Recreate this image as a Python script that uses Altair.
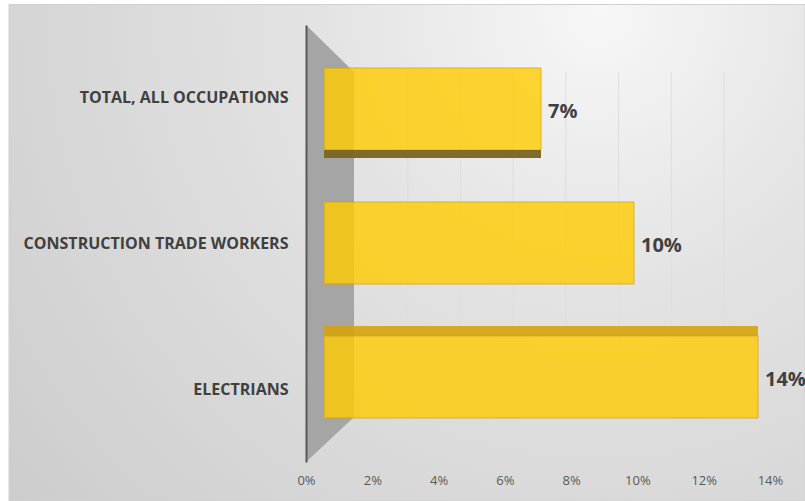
import altair as alt
import pandas as pd

# ---- data ----
categories = ["TOTAL, ALL OCCUPATIONS", "CONSTRUCTION TRADE WORKERS", "ELECTRIANS"]
values = [0.07, 0.10, 0.14]
tick_values = [0, 0.02, 0.04, 0.06, 0.08, 0.10, 0.12, 0.14]
grid_values = [0.02, 0.04, 0.06, 0.08, 0.10, 0.12, 0.14]

# ---- layout ----
W, H = 464, 437
PAD = {"left": 306, "top": 25, "right": 35, "bottom": 39}
DOMAIN = [0, 0.14]

bars_df = pd.DataFrame({"category": categories, "value": values})
grid_df = pd.DataFrame({"g": grid_values})
wall_df = pd.DataFrame({"wx": [0, 48], "wtop": [0, 47], "wbot": [H, 392]})

bar_x = alt.Scale(domain=DOMAIN, range=[18, 452], nice=False, zero=True)
bar_y = alt.Scale(domain=categories, range=[17, 419], paddingInner=0.388, paddingOuter=0.194)

# background panel
bg = alt.Chart(pd.DataFrame({"k": [0]})).mark_rect(
    fill=alt.RadialGradient(
        gradient="radial",
        stops=[
            alt.GradientStop(color="#f7f7f7", offset=0),
            alt.GradientStop(color="#e4e4e4", offset=0.35),
            alt.GradientStop(color="#cdcdcd", offset=1),
        ],
        x1=0.74, y1=0.2, r1=0, x2=0.74, y2=0.2, r2=0.95,
    ),
    stroke="#d0d0d0", strokeWidth=1,
).encode(
    x=alt.value(9 - PAD["left"]), x2=alt.value(W + PAD["right"]),
    y=alt.value(4.5 - PAD["top"]), y2=alt.value(H + PAD["bottom"]),
)

# back-wall gridlines
grid = alt.Chart(grid_df).mark_rule(color="#dedede", strokeWidth=1).encode(
    x=alt.X("g:Q", scale=alt.Scale(domain=DOMAIN, range=[49, 418], nice=False), axis=None),
    y=alt.value(47), y2=alt.value(392),
)

# side wall
wall = alt.Chart(wall_df).mark_area(color="#a5a5a5", opacity=1).encode(
    x=alt.X("wx:Q", scale=alt.Scale(domain=[0, W], range=[0, W], nice=False, zero=False), axis=None),
    y=alt.Y("wtop:Q", scale=alt.Scale(domain=[0, H], range=[0, H], nice=False, zero=False), axis=None),
    y2="wbot:Q",
)

# axis carrier
axes = alt.Chart(bars_df).mark_point(opacity=0).encode(
    x=alt.X("value:Q", scale=alt.Scale(domain=DOMAIN, range=[0, W], nice=False),
            axis=alt.Axis(values=tick_values, format=".0%", grid=False, domain=False, ticks=False,
                          labelFont="Open Sans", labelFontSize=13, labelColor="#595959",
                          labelPadding=12, labelFlush=False, title=None, zindex=2)),
    y=alt.Y("category:N", sort=categories, scale=alt.Scale(type="point", padding=0.5, range=[0, H]),
            axis=alt.Axis(domain=True, domainColor="#595959", domainWidth=2, ticks=False,
                          labelFont="Open Sans", labelFontSize=16, labelFontWeight="bold",
                          labelColor="#404040", labelPadding=18, labelLimit=400, title=None,
                          zindex=2)),
)

enc_x = alt.X("value:Q", scale=bar_x, axis=None)
enc_y = alt.Y("category:N", sort=categories, scale=bar_y, axis=None)

bars = alt.Chart(bars_df).mark_bar(
    color="#ffcc00", opacity=0.8, stroke="#d9a400", strokeWidth=1
).encode(x=enc_x, y=enc_y)

top_face = alt.Chart(bars_df).transform_filter(
    alt.datum.category == categories[2]
).mark_bar(color="#d6a30c", opacity=0.9, height=10, yOffset=-46).encode(x=enc_x, y=enc_y)

bottom_face = alt.Chart(bars_df).transform_filter(
    alt.datum.category == categories[0]
).mark_bar(color="#7a6422", opacity=0.95, height=8, yOffset=45).encode(x=enc_x, y=enc_y)

labels = alt.Chart(bars_df).mark_text(
    align="left", baseline="middle", dx=7, dy=3, font="Open Sans", fontSize=20,
    fontWeight="bold", color="#404040"
).encode(x=enc_x, y=enc_y, text=alt.Text("value:Q", format=".0%"))

chart = alt.layer(bg, grid, wall, axes, bars, top_face, bottom_face, labels).resolve_scale(
    x="independent", y="independent"
).properties(
    width=W, height=H, padding=PAD, autosize="none", background="white"
).configure_view(stroke=None)

chart.save("out.html", embed_options={"renderer": "svg", "actions": False})
